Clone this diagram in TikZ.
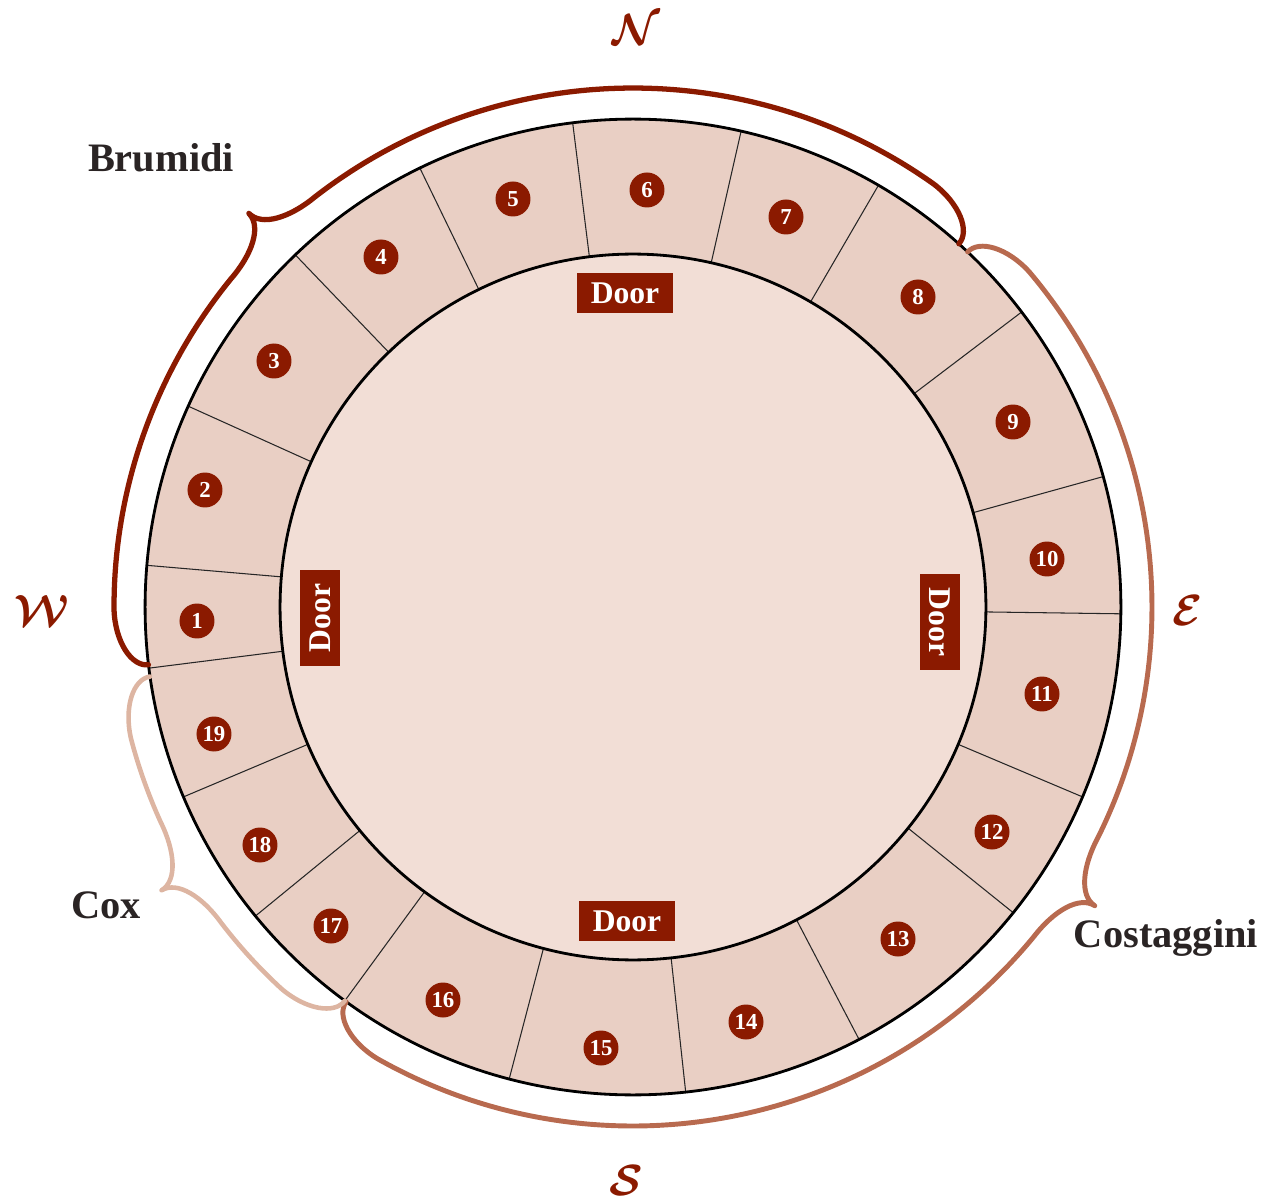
\documentclass[tikz,border=0pt]{standalone}
\usepackage{fontspec}
\setmainfont{Liberation Serif}
\usepackage{tikz}
\usetikzlibrary{positioning}
\definecolor{rtRed}{HTML}{8B1A00}
\definecolor{rtInk}{HTML}{2A2424}
\definecolor{rtRing}{HTML}{E9CFC4}
\definecolor{rtHall}{HTML}{F2DED6}
\definecolor{rtMid}{HTML}{B86A4F}
\definecolor{rtPale}{HTML}{DDB5A2}
\newcommand{\Rout}{488}
\newcommand{\Rin}{353}
\newcommand{\Bh}{31}
\newcommand{\Bc}{6.5}
\tikzset{
  rt plan/.style={x=0.02cm, y=0.02cm, line join=round},
  rt ring/.style={draw=black, line width=1.6pt},
  rt seam/.style={draw=black!85, line width=0.6pt},
  rt num/.style={circle, fill=rtRed, text=white, inner sep=0pt,
    minimum size=0.7cm, font=\fontsize{13}{13}\selectfont\bfseries},
  rt door/.style={fill=rtRed, text=white, inner sep=0pt,
    minimum width=1.92cm, minimum height=0.8cm,
    font=\fontsize{18}{18}\selectfont\bfseries},
  rt name/.style={text=rtInk, font=\fontsize{23}{23}\selectfont\bfseries},
  rt compass/.style={text=rtRed, font=\fontsize{44}{44}\selectfont\boldmath},
  rt brace/.style={line width=2.8pt, line cap=round}
}
% brace round the ring: style, start angle, tip angle, end angle
\newcommand{\ringbrace}[4]{%
  \draw[rt brace,#1] (#2:\Rout)
    .. controls (#2:\Rout+0.55*\Bh) and (#2+0.45*\Bc:\Rout+\Bh) .. (#2+\Bc:\Rout+\Bh)
    arc[start angle=#2+\Bc, end angle=#3-\Bc, radius=(\Rout+\Bh)*0.02cm]
    .. controls (#3-0.45*\Bc:\Rout+\Bh) and (#3:\Rout+1.4*\Bh) .. (#3:\Rout+2*\Bh)
    .. controls (#3:\Rout+1.4*\Bh) and (#3+0.45*\Bc:\Rout+\Bh) .. (#3+\Bc:\Rout+\Bh)
    arc[start angle=#3+\Bc, end angle=#4-\Bc, radius=(\Rout+\Bh)*0.02cm]
    .. controls (#4-0.45*\Bc:\Rout+\Bh) and (#4:\Rout+0.55*\Bh) .. (#4:\Rout);
}

\begin{document}
\begin{tikzpicture}[rt plan]
\useasboundingbox (-633,-596) rectangle (640,607);
% ring of panels and the hall
\fill[rtRing] (0,0) circle[radius=9.76cm];
\foreach \a in {175.1,155.7,133.8,115.9,97.1,77.2,59.8,37.2,15.5,-0.8,
  -22.9,-38.8,-62.4,-83.8,-104.7,-126.2,-140.7,-157.1,-172.8}
  \draw[rt seam] (\a:\Rin) -- (\a:\Rout);
\filldraw[rt ring, fill=rtHall] (0,0) circle[radius=7.06cm];
\draw[rt ring] (0,0) circle[radius=9.76cm];
% panel numbers
\foreach \i/\x/\y in {1/-436/-14, 2/-428/117, 3/-359/246, 4/-252/350,
  5/-120/408, 6/14/417, 7/153/390, 8/285/310, 9/380/185, 10/414/48,
  11/409/-87, 12/359/-225, 13/265/-332, 14/113/-415, 15/-32/-441,
  16/-190/-393, 17/-302/-319, 18/-373/-238, 19/-419/-127}
  \node[rt num] (n\i) at (\x,\y) {\i};
% doors
\node[rt door] (doorN) at (-8,314) {Door};
\node[rt door] (doorS) at (-6,-314) {Door};
\node[rt door, rotate=90] (doorW) at (-313,-11) {Door};
\node[rt door, rotate=-90] (doorE) at (307,-15) {Door};
% braces for the painters
\ringbrace{rtRed, line width=3pt}{48.1}{134.3}{186.8}
\ringbrace{rtMid}{-126}{-32.9}{46.7}
\ringbrace{rtPale, line width=2.6pt}{188.2}{211}{233.8}
\node[rt name] (brumidi) at (-472,449) {Brumidi};
\node[rt name] (costaggini) at (533,-331) {Costaggini};
\node[rt name] (cox) at (-527,-298) {Cox};
% compass
\node[rt compass] (north) at (3,577) {$\mathcal{N}$};
\node[rt compass] (west) at (-591,-4) {$\mathcal{W}$};
\node[rt compass] (east) at (555,-4) {$\mathcal{E}$};
\node[rt compass] (south) at (-7,-573) {$\mathcal{S}$};
\end{tikzpicture}
\end{document}
